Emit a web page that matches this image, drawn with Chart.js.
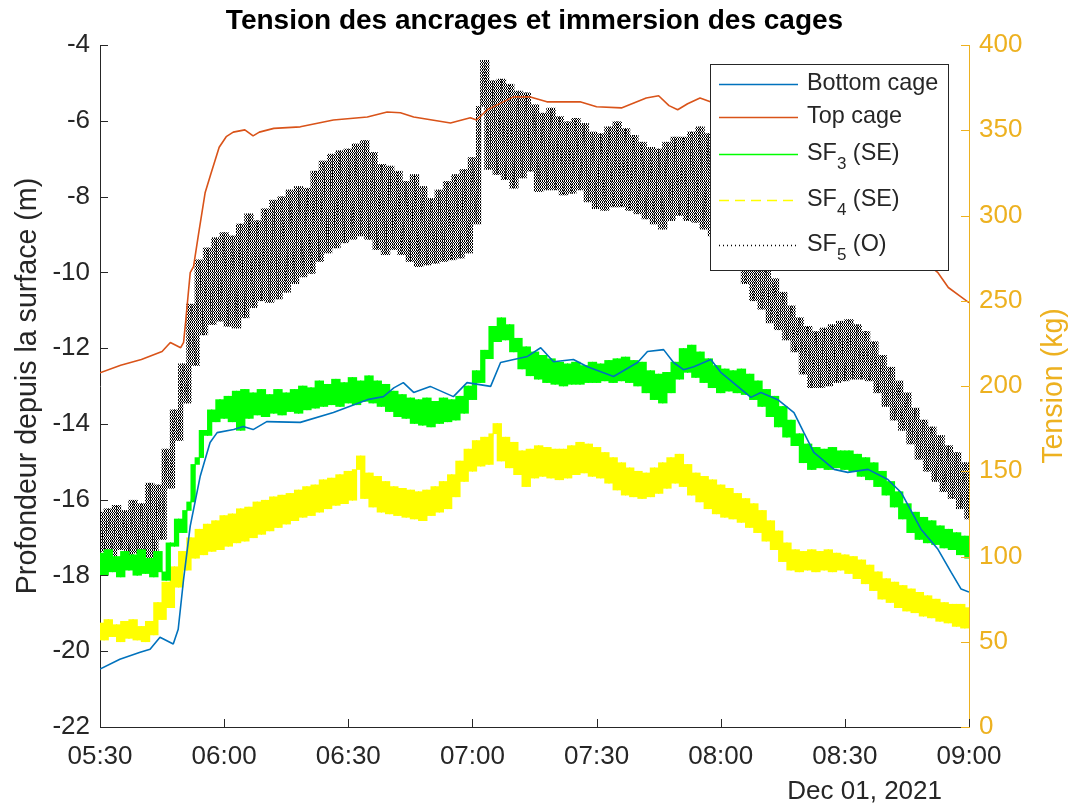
<!DOCTYPE html>
<html>
<head>
<meta charset="utf-8">
<title>Tension des ancrages et immersion des cages</title>
<script src="https://cdn.jsdelivr.net/npm/chart.js@4/dist/chart.umd.min.js"></script>
<style>
  body { margin: 0; background: #fff; }
  canvas { display: block; }
</style>
</head>
<body>
<canvas id="chart" width="1078" height="810"></canvas>
<script>
// minutes after 05:30, 1 December 2021
const xTicks = [0, 30, 60, 90, 120, 150, 180, 210];
const depthTicks = [-22, -20, -18, -16, -14, -12, -10, -8, -6, -4];
const tensionTicks = [0, 50, 100, 150, 200, 250, 300, 350, 400];

// cage depth (m)
const bottomTime = [0, 4.8, 9.7, 12.1, 14.5, 17.7, 18.9, 20.2, 21.8, 24.2, 26.6, 28.3, 32.3, 34.6, 37, 40.3, 48.4, 56.4, 64.6, 68.5, 71, 73.3, 75.8, 79.8, 85.4, 88.7, 94.4, 96.8, 100, 103.3, 106.5, 109.6, 114.4, 117.8, 124.1, 129.9, 132.3, 136.2, 138.6, 141, 143.5, 147.6, 150, 154.1, 157.3, 159.7, 163.8, 167.7, 170.1, 172.5, 177.4, 180.7, 185.6, 190.4, 193.6, 198.4, 202.5, 205.7, 208.1, 210];
const bottomDepth = [-20.47, -20.21, -20.03, -19.95, -19.63, -19.81, -19.42, -18.10, -16.70, -15.39, -14.49, -14.23, -14.15, -14.07, -14.15, -13.94, -13.96, -13.70, -13.36, -13.28, -13.05, -12.91, -13.17, -13.01, -13.28, -12.91, -13.01, -12.38, -12.30, -12.22, -11.99, -12.36, -12.30, -12.49, -12.75, -12.38, -12.09, -12.04, -12.38, -12.57, -12.49, -12.30, -12.64, -13.01, -13.30, -13.17, -13.36, -13.70, -14.23, -14.75, -15.20, -15.28, -15.20, -15.47, -15.81, -16.78, -17.31, -17.92, -18.36, -18.44];

const topTime = [0, 5, 10, 15, 17, 19.5, 20.2, 20.7, 21.8, 22.6, 23.8, 25.4, 26.8, 28.8, 30.5, 32.2, 35, 37, 38.5, 42, 48.4, 56.4, 64.6, 69.4, 72.6, 75.8, 84.7, 89.5, 91, 93.6, 99.9, 104, 108, 116, 120, 126, 132, 135, 137.5, 139.6, 142, 145, 150, 160, 170, 180, 190, 198, 202.5, 205, 208, 210];
const topDepth = [-12.65, -12.45, -12.30, -12.09, -11.85, -11.99, -11.85, -11.30, -10.01, -9.85, -9.00, -7.90, -7.40, -6.70, -6.42, -6.30, -6.24, -6.40, -6.30, -6.20, -6.16, -5.98, -5.90, -5.77, -5.79, -5.90, -6.06, -5.92, -5.98, -5.71, -5.37, -5.37, -5.50, -5.50, -5.63, -5.66, -5.40, -5.34, -5.60, -5.71, -5.55, -5.40, -5.60, -6.10, -6.90, -7.90, -8.90, -9.60, -10.01, -10.40, -10.64, -10.80];

// anchor line tension (kg), one reading per minute, alternating high / low of the noise band
const minutes = Array.from({ length: 211 }, (_, i) => i);
const sf3 = [
  102, 89, 104, 91, 100, 88, 103, 92, 101, 89,
  104, 90, 99, 88, 103, 91, 86, 108, 106, 122,
  114, 127, 132, 154, 158, 174, 171, 186, 179, 192,
  181, 194, 179, 197, 174, 198, 181, 196, 183, 198,
  182, 195, 184, 198, 183, 196, 185, 198, 184, 200,
  186, 199, 187, 203, 188, 201, 189, 204, 188, 202,
  190, 205, 189, 203, 191, 206, 190, 203, 188, 201,
  185, 197, 182, 195, 181, 193, 178, 192, 177, 193,
  176, 191, 178, 193, 179, 192, 180, 194, 184, 200,
  192, 209, 202, 221, 216, 235, 226, 240, 227, 236,
  220, 228, 210, 223, 206, 220, 204, 218, 202, 216,
  201, 214, 200, 213, 201, 214, 201, 212, 202, 214,
  202, 213, 203, 215, 202, 216, 203, 217, 202, 215,
  200, 214, 196, 209, 192, 207, 190, 208, 196, 214,
  204, 222, 208, 224, 205, 220, 202, 216, 199, 212,
  196, 210, 197, 209, 196, 210, 195, 207, 192, 203,
  188, 198, 182, 194, 176, 188, 170, 180, 165, 172,
  155, 166, 151, 164, 152, 163, 151, 164, 152, 162,
  151, 162, 150, 160, 147, 158, 145, 155, 141, 150,
  136, 144, 129, 138, 122, 131, 114, 126, 110, 123,
  108, 121, 107, 118, 105, 116, 104, 114, 101, 112,
  99
];
const sf4 = [
  61, 51, 63, 53, 60, 50, 62, 52, 63, 51,
  59, 50, 62, 54, 73, 63, 85, 70, 94, 82,
  103, 92, 111, 99, 116, 101, 119, 103, 121, 104,
  124, 106, 125, 108, 128, 109, 129, 111, 132, 113,
  133, 115, 135, 117, 136, 119, 137, 121, 139, 123,
  141, 124, 142, 126, 145, 128, 146, 130, 148, 131,
  150, 133, 151, 159, 134, 149, 129, 147, 126, 144,
  125, 141, 124, 140, 123, 139, 122, 138, 121, 139,
  124, 141, 126, 144, 128, 148, 135, 156, 144, 163,
  150, 168, 153, 170, 154, 172, 178, 156, 170, 152,
  167, 148, 162, 141, 163, 146, 165, 147, 164, 146,
  163, 145, 163, 146, 165, 148, 167, 149, 166, 147,
  164, 146, 161, 143, 158, 139, 155, 136, 152, 135,
  150, 134, 149, 135, 152, 137, 155, 140, 158, 143,
  160, 141, 154, 136, 149, 132, 147, 128, 145, 125,
  142, 123, 140, 122, 137, 120, 134, 117, 131, 114,
  127, 109, 121, 104, 115, 97, 108, 92, 104, 91,
  103, 92, 104, 91, 103, 92, 104, 91, 102, 92,
  101, 90, 100, 87, 98, 84, 95, 80, 91, 75,
  87, 73, 85, 70, 83, 68, 81, 67, 79, 65,
  77, 64, 75, 62, 73, 61, 72, 59, 72, 58,
  70
];
const sf5 = [
  126, 103, 128, 100, 130, 104, 127, 99, 133, 102,
  131, 98, 143, 96, 142, 110, 163, 140, 186, 168,
  213, 190, 248, 212, 274, 230, 281, 236, 287, 238,
  290, 235, 288, 234, 295, 240, 301, 246, 297, 250,
  304, 249, 309, 251, 311, 255, 315, 260, 317, 264,
  316, 266, 326, 273, 332, 278, 336, 281, 338, 284,
  339, 286, 342, 288, 344, 286, 337, 280, 330, 277,
  329, 280, 326, 277, 320, 273, 324, 270, 317, 271,
  310, 272, 315, 273, 320, 274, 324, 275, 327, 278,
  334, 295, 364, 391, 327, 379, 324, 380, 321, 377,
  316, 373, 322, 372, 326, 365, 314, 360, 315, 363,
  315, 358, 312, 355, 313, 357, 315, 354, 308, 349,
  304, 348, 303, 352, 305, 355, 305, 351, 303, 347,
  301, 343, 298, 340, 295, 339, 292, 343, 297, 346,
  300, 346, 297, 349, 296, 352, 292, 348, 288, 338,
  290, 325, 280, 315, 270, 305, 260, 295, 250, 283,
  245, 272, 237, 263, 233, 255, 227, 247, 220, 240,
  207, 235, 199, 232, 199, 234, 200, 236, 202, 238,
  203, 239, 204, 236, 204, 232, 203, 226, 196, 218,
  188, 211, 180, 203, 174, 196, 166, 187, 157, 180,
  150, 176, 144, 171, 138, 165, 134, 161, 128, 155,
  122
];

const AXIS = '#262626';
const RIGHT = '#EDB120';
const FONT = '"Liberation Sans", Arial, sans-serif';

function pairs(xs, ys) {
  return xs.map((x, i) => ({ x: x, y: ys[i] }));
}

// each minute is filled between its reading and the next one
function band(vals) {
  const out = [];
  for (let i = 0; i < vals.length - 1; i++) {
    out.push({ x: minutes[i] + 0.5, y: [Math.min(vals[i], vals[i + 1]), Math.max(vals[i], vals[i + 1])] });
  }
  return out;
}

function clock(v) {
  const total = 330 + v;
  const h = Math.floor(total / 60), m = total % 60;
  return String(h).padStart(2, '0') + ':' + String(m).padStart(2, '0');
}

// dotted texture for the SF5 band
function dotPattern() {
  const c = document.createElement('canvas');
  c.width = 2; c.height = 3;
  const g = c.getContext('2d');
  g.fillStyle = '#000';
  g.fillRect(0, 0, 1, 2);
  g.fillRect(1, 2, 1, 1);
  return g.createPattern(c, 'repeat');
}

const legendItems = [
  { text: 'Bottom cage', color: '#0072BD', dash: [] },
  { text: 'Top cage', color: '#D95319', dash: [] },
  { text: 'SF', sub: '3', rest: ' (SE)', color: '#00FF00', dash: [] },
  { text: 'SF', sub: '4', rest: ' (SE)', color: '#FFFF00', dash: [10, 6] },
  { text: 'SF', sub: '5', rest: ' (O)', color: '#000000', dash: [1, 3] }
];

// titles, inward ticks and the boxed legend, drawn the way MATLAB does
const decor = {
  id: 'decor',
  afterDraw(chart) {
    const ctx = chart.ctx;
    const a = chart.chartArea;
    const sx = chart.scales.x, sy = chart.scales.y, sr = chart.scales.y2;
    ctx.save();
    ctx.lineWidth = 1;

    ctx.strokeStyle = AXIS;
    ctx.beginPath();
    xTicks.forEach(v => {
      const p = Math.round(sx.getPixelForValue(v)) + 0.5;
      ctx.moveTo(p, a.bottom); ctx.lineTo(p, a.bottom - 8);
    });
    depthTicks.forEach(v => {
      const p = Math.round(sy.getPixelForValue(v)) + 0.5;
      ctx.moveTo(a.left, p); ctx.lineTo(a.left + 8, p);
    });
    ctx.stroke();
    ctx.strokeStyle = RIGHT;
    ctx.beginPath();
    tensionTicks.forEach(v => {
      const p = Math.round(sr.getPixelForValue(v)) + 0.5;
      ctx.moveTo(a.right, p); ctx.lineTo(a.right - 8, p);
    });
    ctx.stroke();

    ctx.fillStyle = '#000';
    ctx.font = 'bold 28px ' + FONT;
    ctx.textAlign = 'center';
    ctx.textBaseline = 'middle';
    ctx.fillText('Tension des ancrages et immersion des cages', (a.left + a.right) / 2, 21);

    const mid = (a.top + a.bottom) / 2;
    ctx.font = '28.6px ' + FONT;
    ctx.save();
    ctx.translate(28, mid);
    ctx.rotate(-Math.PI / 2);
    ctx.fillStyle = AXIS;
    ctx.fillText('Profondeur depuis la surface (m)', 0, 0);
    ctx.restore();
    ctx.save();
    ctx.translate(1054, mid);
    ctx.rotate(-Math.PI / 2);
    ctx.fillStyle = RIGHT;
    ctx.fillText('Tension (kg)', 0, 0);
    ctx.restore();

    ctx.fillStyle = AXIS;
    ctx.font = '26px ' + FONT;
    ctx.textAlign = 'right';
    ctx.fillText('Dec 01, 2021', 942, 792);

    // legend box
    const bx = 710.5, by = 64.5, bw = 238, bh = 206;
    ctx.fillStyle = '#fff';
    ctx.fillRect(bx, by, bw, bh);
    ctx.strokeStyle = AXIS;
    ctx.strokeRect(bx, by, bw, bh);
    const rows = [84, 117, 154, 200, 245];
    legendItems.forEach((it, i) => {
      const y = rows[i];
      ctx.strokeStyle = it.color;
      ctx.lineWidth = 1.5;
      ctx.setLineDash(it.dash);
      ctx.beginPath();
      ctx.moveTo(719, y + 0.5); ctx.lineTo(798, y + 0.5);
      ctx.stroke();
      ctx.setLineDash([]);
      ctx.fillStyle = AXIS;
      ctx.textAlign = 'left';
      ctx.textBaseline = 'middle';
      ctx.font = '23.4px ' + FONT;
      let x = 807;
      ctx.fillText(it.text, x, y);
      if (it.sub) {
        x += ctx.measureText(it.text).width;
        ctx.font = '17px ' + FONT;
        ctx.fillText(it.sub, x, y + 10);
        x += ctx.measureText(it.sub).width;
        ctx.font = '23.4px ' + FONT;
        ctx.fillText(it.rest, x, y);
      }
    });
    ctx.restore();
  }
};

const tickFont = { family: FONT, size: 26 };
const bandStyle = { type: 'bar', yAxisID: 'y2', grouped: false, barPercentage: 1, categoryPercentage: 1, barThickness: 4.6, borderWidth: 0 };
const traceStyle = { type: 'line', yAxisID: 'y2', borderWidth: 1, borderJoinStyle: 'miter' };

new Chart(document.getElementById('chart'), {
  type: 'line',
  data: {
    datasets: [
      {
        label: 'Bottom cage', data: pairs(bottomTime, bottomDepth), yAxisID: 'y',
        borderColor: '#0072BD', borderWidth: 1.6, order: 0
      },
      {
        label: 'Top cage', data: pairs(topTime, topDepth), yAxisID: 'y',
        borderColor: '#D95319', borderWidth: 1.6, order: 0
      },
      Object.assign({ label: 'SF3 (SE)', data: band(sf3), backgroundColor: '#00FF00', order: 1 }, bandStyle),
      Object.assign({ label: 'SF3 trace', data: pairs(minutes, sf3), borderColor: '#00FF00', order: 1 }, traceStyle),
      Object.assign({ label: 'SF4 (SE)', data: band(sf4), backgroundColor: '#FFFF00', order: 2 }, bandStyle),
      Object.assign({ label: 'SF4 trace', data: pairs(minutes, sf4), borderColor: '#FFFF00', order: 2 }, traceStyle),
      Object.assign({ label: 'SF5 (O)', data: band(sf5), backgroundColor: dotPattern(), order: 3 }, bandStyle),
      Object.assign({ label: 'SF5 trace', data: pairs(minutes, sf5), borderColor: '#000000', borderDash: [1, 2], order: 3 }, traceStyle)
    ]
  },
  options: {
    responsive: false,
    animation: false,
    devicePixelRatio: 1,
    layout: { padding: { top: 45 } },
    elements: {
      point: { radius: 0 },
      line: { tension: 0, borderJoinStyle: 'bevel', fill: false }
    },
    plugins: {
      legend: { display: false },
      title: { display: false },
      tooltip: { enabled: false }
    },
    scales: {
      x: {
        type: 'linear', min: 0, max: 210, offset: false,
        afterBuildTicks: s => { s.ticks = xTicks.map(v => ({ value: v })); },
        ticks: { callback: clock, color: AXIS, font: tickFont, padding: 14, maxRotation: 0, autoSkip: false },
        grid: { display: false, drawTicks: false, offset: false },
        border: { color: AXIS, width: 1 },
        afterFit: s => { s.height = 83; }
      },
      y: {
        position: 'left', min: -22, max: -4,
        afterBuildTicks: s => { s.ticks = depthTicks.map(v => ({ value: v })); },
        ticks: { color: AXIS, font: tickFont, padding: 10 },
        grid: { display: false, drawTicks: false },
        border: { color: AXIS, width: 1 },
        afterFit: s => { s.width = 100; }
      },
      y2: {
        position: 'right', min: 0, max: 400,
        afterBuildTicks: s => { s.ticks = tensionTicks.map(v => ({ value: v })); },
        ticks: { color: RIGHT, font: tickFont, padding: 10 },
        grid: { display: false, drawTicks: false },
        border: { color: RIGHT, width: 1 },
        afterFit: s => { s.width = 109; }
      }
    }
  },
  plugins: [decor]
});
</script>
</body>
</html>
